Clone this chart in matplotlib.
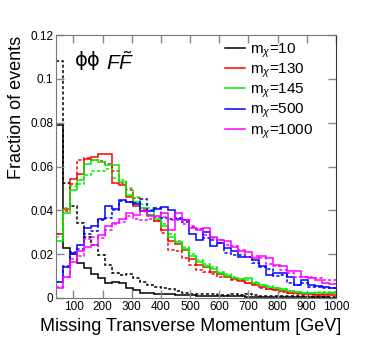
import numpy as np
import matplotlib
matplotlib.use("Agg")
import matplotlib.pyplot as plt

plt.rcParams['font.family'] = ['Liberation Sans', 'DejaVu Sans']
plt.rcParams['mathtext.fontset'] = 'custom'
plt.rcParams['mathtext.rm'] = 'Liberation Sans'
plt.rcParams['mathtext.it'] = 'Liberation Sans:italic'

# 40 bins of 24 GeV from 40 to 1000
edges = np.arange(40, 1001, 24)

# m_chi = 10
m10_solid = [0.079, 0.023, 0.020, 0.016, 0.0135, 0.011, 0.009, 0.007, 0.0075, 0.0068,
             0.0045, 0.0035, 0.0025, 0.0022, 0.002, 0.0019, 0.0017, 0.0015, 0.0013, 0.0012,
             0.0011, 0.001, 0.0009, 0.0009, 0.0008, 0.0007, 0.0007, 0.0006, 0.0006, 0.0005,
             0.0005, 0.0005, 0.0004, 0.0004, 0.0004, 0.0003, 0.0003, 0.0003, 0.0003, 0.0002]
m10_dash = [0.108, 0.0526, 0.042, 0.0343, 0.028, 0.024, 0.0197, 0.0151, 0.0113, 0.0106,
            0.011, 0.009, 0.0075, 0.006, 0.0052, 0.0045, 0.004, 0.003, 0.0025, 0.002,
            0.0018, 0.0017, 0.0016, 0.0015, 0.0014, 0.0016, 0.0013, 0.0018, 0.0012, 0.001,
            0.0011, 0.0009, 0.0008, 0.0008, 0.0007, 0.0007, 0.0006, 0.0006, 0.0005, 0.0005]

# m_chi = 130
m130_solid = [0.029, 0.0404, 0.0544, 0.0567, 0.0635, 0.0645, 0.0656, 0.0655, 0.0527, 0.0515,
              0.046, 0.042, 0.0398, 0.038, 0.035, 0.031, 0.0258, 0.0245, 0.022, 0.0178,
              0.0152, 0.014, 0.012, 0.011, 0.0098, 0.0086, 0.0076, 0.0067, 0.006, 0.005,
              0.0042, 0.0035, 0.003, 0.0025, 0.0022, 0.0019, 0.0016, 0.0013, 0.0013, 0.0014]
m130_dash = [0.029, 0.0395, 0.052, 0.063, 0.064, 0.063, 0.0625, 0.061, 0.058, 0.0526,
             0.0495, 0.0457, 0.0404, 0.038, 0.035, 0.0297, 0.022, 0.0213, 0.0182, 0.0151,
             0.0128, 0.012, 0.011, 0.0098, 0.0101, 0.0083, 0.008, 0.007, 0.0064, 0.0044,
             0.0043, 0.0037, 0.0028, 0.0021, 0.0018, 0.0017, 0.0014, 0.0015, 0.0018, 0.0021]

# m_chi = 145
m145_solid = [0.026, 0.039, 0.0495, 0.054, 0.061, 0.063, 0.062, 0.0605, 0.0605, 0.053,
              0.047, 0.044, 0.041, 0.038, 0.036, 0.033, 0.028, 0.0255, 0.0225, 0.019,
              0.0165, 0.0145, 0.0132, 0.0115, 0.010, 0.0092, 0.0085, 0.009, 0.007, 0.006,
              0.005, 0.0045, 0.004, 0.0033, 0.0028, 0.0025, 0.0022, 0.0022, 0.0021, 0.0022]
m145_dash = [0.028, 0.041, 0.051, 0.052, 0.056, 0.058, 0.058, 0.0587, 0.055, 0.054,
             0.05, 0.046, 0.043, 0.041, 0.037, 0.034, 0.029, 0.026, 0.0235, 0.020,
             0.0175, 0.0155, 0.014, 0.012, 0.011, 0.0095, 0.0087, 0.008, 0.0072, 0.006,
             0.0055, 0.0045, 0.0038, 0.0032, 0.0028, 0.0025, 0.0025, 0.0028, 0.0027, 0.0026]

# m_chi = 500
m500_solid = [0.0075, 0.014, 0.0205, 0.024, 0.032, 0.0327, 0.036, 0.0419, 0.0405, 0.0446,
              0.0439, 0.0427, 0.0396, 0.0396, 0.0407, 0.0416, 0.0402, 0.036, 0.0355, 0.029,
              0.0263, 0.030, 0.0239, 0.0251, 0.0228, 0.0213, 0.0187, 0.0187, 0.0174, 0.0144,
              0.0106, 0.0116, 0.0116, 0.0095, 0.006, 0.0083, 0.006, 0.0055, 0.0049, 0.0044]
m500_dash = [0.0075, 0.0144, 0.021, 0.0225, 0.029, 0.0305, 0.0355, 0.0365, 0.040, 0.0442,
             0.044, 0.0435, 0.0452, 0.040, 0.041, 0.0365, 0.036, 0.0365, 0.0346, 0.0325,
             0.0315, 0.0275, 0.0263, 0.025, 0.0205, 0.0197, 0.0197, 0.0187, 0.016, 0.014,
             0.0131, 0.0101, 0.0106, 0.007, 0.006, 0.0067, 0.0049, 0.0052, 0.0044, 0.0044]

# m_chi = 1000
m1000_solid = [0.0044, 0.0095, 0.0165, 0.0213, 0.0235, 0.0243, 0.0289, 0.0327, 0.0342, 0.036,
               0.039, 0.038, 0.0396, 0.0376, 0.0373, 0.0388, 0.031, 0.0388, 0.0358, 0.032,
               0.031, 0.032, 0.028, 0.0266, 0.0258, 0.0235, 0.0213, 0.0208, 0.0182, 0.019,
               0.0182, 0.0151, 0.0144, 0.0121, 0.0121, 0.0098, 0.009, 0.0083, 0.0067, 0.0064]
m1000_dash = [0.0052, 0.0098, 0.018, 0.019, 0.027, 0.028, 0.0275, 0.031, 0.034, 0.0345,
              0.0375, 0.036, 0.0355, 0.036, 0.037, 0.037, 0.0358, 0.0355, 0.034, 0.0327,
              0.0315, 0.0289, 0.0274, 0.0263, 0.0243, 0.0239, 0.022, 0.0187, 0.019, 0.0182,
              0.0156, 0.0144, 0.0128, 0.0116, 0.0098, 0.0095, 0.0098, 0.009, 0.008, 0.008]

labels = [r'm$_{\chi}$=10', r'm$_{\chi}$=130', r'm$_{\chi}$=145',
          r'm$_{\chi}$=500', r'm$_{\chi}$=1000']
colors = ['black', '#ff0000', '#00ee00', '#0000ff', '#ff00ff']
solids = [m10_solid, m130_solid, m145_solid, m500_solid, m1000_solid]
dashes = [m10_dash, m130_dash, m145_dash, m500_dash, m1000_dash]

xticks = [100, 200, 300, 400, 500, 600, 700, 800, 900, 1000]
yticks = [0, 0.02, 0.04, 0.06, 0.08, 0.1, 0.12]
yticklabels = ['0', '0.02', '0.04', '0.06', '0.08', '0.1', '0.12']

fig = plt.figure(figsize=(3.74, 3.51), dpi=100)
ax = fig.add_axes([0.1497, 0.151, 0.7487, 0.749])

handles = []
for sol, dsh, c, lab in zip(solids, dashes, colors, labels):
    ax.stairs(dsh, edges, baseline=None, color=c, lw=1.1, linestyle=(0, (2, 1.5)))
    ax.stairs(sol, edges, baseline=None, color=c, lw=1.1)
    handles.append(plt.Line2D([], [], color=c, lw=1.1))

ax.set_xlim(40, 1000)
ax.set_ylim(0, 0.12)
ax.set_xticks(xticks)
ax.set_xticklabels([str(t) for t in xticks])
ax.set_yticks(yticks)
ax.set_yticklabels(yticklabels)
ax.tick_params(direction='in', length=6, width=1, color='#888888',
               top=True, right=True, labelsize=8.5, pad=2)
for s in ['left', 'bottom', 'top']:
    ax.spines[s].set_color('#777777')
ax.spines['right'].set_color('#333333')

ax.set_xlabel('Missing Transverse Momentum [GeV]', fontsize=13, labelpad=6)
ax.xaxis.set_label_coords(0.48, -0.075)
ax.set_ylabel('Fraction of events', fontsize=13)
ax.yaxis.set_label_coords(-0.11, 0.725)

ax.text(0.068, 0.94, 'ϕϕ', transform=ax.transAxes, fontsize=14,
        va='top', ha='left', family=['DejaVu Sans'])
ax.text(0.178, 0.94, r'$F\tilde{F}$', transform=ax.transAxes,
        fontsize=15, va='top', ha='left')

ax.legend(handles, labels, loc='upper left', bbox_to_anchor=(0.605, 0.975),
          frameon=False, fontsize=11, handlelength=1.3, handletextpad=0.3,
          labelspacing=0.12, borderpad=0, borderaxespad=0)

fig.savefig('out.png', dpi=100)
